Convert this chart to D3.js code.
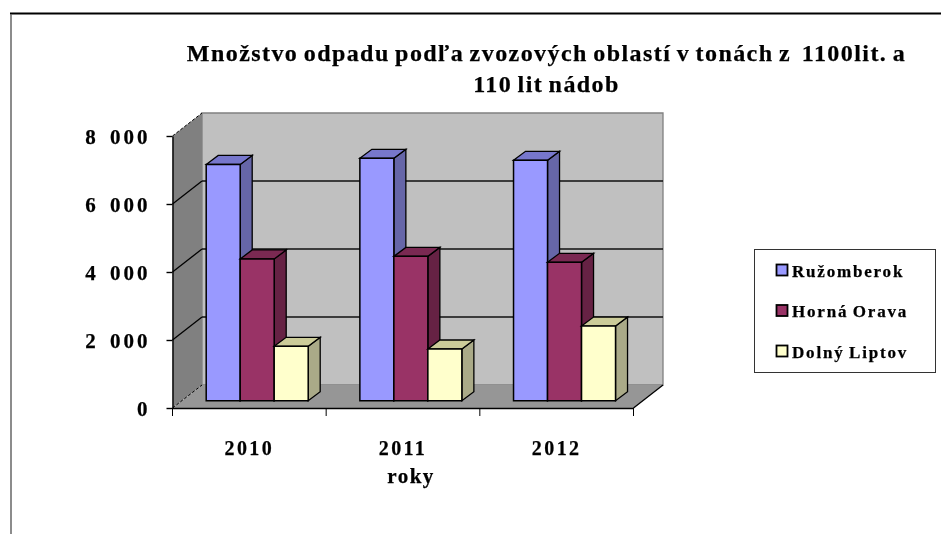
<!DOCTYPE html>
<html>
<head>
<meta charset="utf-8">
<script src="https://cdn.jsdelivr.net/npm/d3@7"></script>
<style>
body { margin: 0; background: #fff; }
svg { filter: blur(0.35px); }
text { font-family: "Liberation Serif", serif; font-weight: bold; fill: #000; stroke: #000; stroke-width: 0.25px; }
</style>
</head>
<body>
<script>
// data
var years = ["2010", "2011", "2012"];
var seriesNames = ["Ružomberok", "Horná Orava", "Dolný Liptov"];
var ruzomberok = [6950, 7130, 7070];
var hornaOrava = [4170, 4245, 4070];
var dolnyLiptov = [1600, 1520, 2195];
var yTicks = [0, 2000, 4000, 6000, 8000];
var yTickLabels = ["0", "2 000", "4 000", "6 000", "8 000"];
var titleLines = ["Množstvo odpadu podľa zvozových oblastí v tonách z  1100lit. a", "110 lit nádob"];

var seriesValues = [ruzomberok, hornaOrava, dolnyLiptov];
var faceColors = ["#9999ff", "#993366", "#ffffcc"];
var sideColors = ["#6666a8", "#662244", "#aaaa88"];
var topColors = ["#7777cc", "#7a2952", "#cccc99"];

var width = 941, height = 534;

// front plane of the 3d box and how far the back wall is shifted
var boxLeft = 172.5, boxRight = 633.5, boxTop = 136, boxBottom = 408;
var depthX = 29.5, depthY = -23;
// bars stand part way into the box
var barShiftX = 8.2, barShiftY = -7.3;
var barDepthX = 12, barDepthY = -9;

var x = d3.scaleBand().domain(years).range([boxLeft, boxRight]).paddingInner(0).paddingOuter(0);
var xInner = d3.scaleBand().domain(seriesNames).range([25.5, 127.5]);
var y = d3.scaleLinear().domain([0, 8000]).range([boxBottom, boxTop]);

var svg = d3.select("body").append("svg")
    .attr("width", width)
    .attr("height", height)
    .style("display", "block");

// page edge
svg.append("line").attr("x1", 10).attr("x2", width).attr("y1", 13.5).attr("y2", 13.5)
    .attr("stroke", "#000").attr("stroke-width", 2);
svg.append("line").attr("x1", 11).attr("x2", 11).attr("y1", 14).attr("y2", height)
    .attr("stroke", "#666").attr("stroke-width", 1.5);

// title
svg.selectAll(".title").data(titleLines).enter().append("text")
    .attr("class", "title")
    .attr("x", 546.5)
    .attr("y", (d, i) => 61 + i * 31)
    .attr("text-anchor", "middle")
    .style("font-size", "24px")
    .style("letter-spacing", "1.43px")
    .style("word-spacing", "-2px")
    .style("white-space", "pre")
    .text(d => d);

function poly(points, fill, stroke) {
    return svg.append("polygon")
        .attr("points", points.map(p => p.join(",")).join(" "))
        .attr("fill", fill)
        .attr("stroke", stroke || "none")
        .attr("stroke-width", 1.3);
}

// walls and floor
poly([[boxLeft + depthX, y(8000) + depthY], [boxRight + depthX, y(8000) + depthY], [boxRight + depthX, y(0) + depthY], [boxLeft + depthX, y(0) + depthY]], "#c0c0c0", "#808080");
poly([[boxLeft, y(8000)], [boxLeft + depthX, y(8000) + depthY], [boxLeft + depthX, y(0) + depthY], [boxLeft, y(0)]], "#808080");
poly([[boxLeft, y(0)], [boxLeft + depthX, y(0) + depthY], [boxRight + depthX, y(0) + depthY], [boxRight, y(0)]], "#969696");

// gridlines, back wall then side wall
yTicks.slice(1, 4).forEach(t => {
    svg.append("line").attr("x1", boxLeft + depthX).attr("x2", boxRight + depthX)
        .attr("y1", y(t) + depthY).attr("y2", y(t) + depthY)
        .attr("stroke", "#111").attr("stroke-width", 1.4);
    svg.append("line").attr("x1", boxLeft).attr("x2", boxLeft + depthX)
        .attr("y1", y(t)).attr("y2", y(t) + depthY)
        .attr("stroke", "#000").attr("stroke-width", 1.3);
});
[0, 8000].forEach(t => {
    svg.append("line").attr("x1", boxLeft).attr("x2", boxLeft + depthX)
        .attr("y1", y(t)).attr("y2", y(t) + depthY)
        .attr("stroke", "#000").attr("stroke-dasharray", "3,2");
});
svg.append("line").attr("x1", boxRight).attr("x2", boxRight + depthX)
    .attr("y1", y(0)).attr("y2", y(0) + depthY).attr("stroke", "#000").attr("stroke-width", 1.3);

// axes
var leftAxis = d3.axisLeft(y)
    .tickValues(yTicks)
    .tickFormat((d, i) => yTickLabels[i])
    .tickSize(6)
    .tickSizeOuter(0)
    .tickPadding(16);
var yAxis = svg.append("g").attr("transform", "translate(" + boxLeft + ",0)").call(leftAxis);
yAxis.selectAll("text")
    .style("font-size", "21px")
    .style("font-family", "Liberation Serif")
    .style("font-weight", "bold")
    .style("letter-spacing", "3px")
    .style("word-spacing", "3px")
    .attr("dy", "0.35em");
yAxis.selectAll("path, line").attr("stroke", "#000").attr("stroke-width", 1.4);

var bottomAxis = d3.axisBottom(x).tickSize(0).tickPadding(33);
var xAxis = svg.append("g").attr("transform", "translate(0," + boxBottom + ")").call(bottomAxis);
xAxis.selectAll("text")
    .style("font-size", "20px")
    .style("font-family", "Liberation Serif")
    .style("font-weight", "bold")
    .style("letter-spacing", "2.4px");
xAxis.selectAll("path, line").attr("stroke", "#000").attr("stroke-width", 1.4);
// ticks between the categories
xAxis.selectAll(".sep").data(d3.range(years.length + 1)).enter().append("line")
    .attr("x1", i => boxLeft + i * x.step()).attr("x2", i => boxLeft + i * x.step())
    .attr("y1", 0).attr("y2", 8)
    .attr("stroke", "#000");

// bars, back to front in series order
years.forEach((year, yi) => {
    seriesNames.forEach((name, si) => {
        var x0 = x(year) + xInner(name) + barShiftX;
        var x1 = x0 + xInner.bandwidth();
        var y0 = y(0) + barShiftY;
        var y1 = y(seriesValues[si][yi]) + barShiftY;
        poly([[x1, y1], [x1 + barDepthX, y1 + barDepthY], [x1 + barDepthX, y0 + barDepthY], [x1, y0]], sideColors[si], "#000");
        poly([[x0, y1], [x0 + barDepthX, y1 + barDepthY], [x1 + barDepthX, y1 + barDepthY], [x1, y1]], topColors[si], "#000");
        poly([[x0, y1], [x1, y1], [x1, y0], [x0, y0]], faceColors[si], "#000").attr("stroke-width", 1.5);
    });
});

// axis title
svg.append("text")
    .attr("x", 411)
    .attr("y", 483)
    .attr("text-anchor", "middle")
    .style("font-size", "21px")
    .style("letter-spacing", "1.5px")
    .text("roky");

// legend
svg.append("rect").attr("x", 754.5).attr("y", 249.5).attr("width", 181).attr("height", 123)
    .attr("fill", "#fff").attr("stroke", "#333");
var legendY = d3.scalePoint().domain(seriesNames).range([270, 351]);
var legend = svg.selectAll(".legend").data(seriesNames).enter().append("g")
    .attr("class", "legend")
    .attr("transform", d => "translate(0," + legendY(d) + ")");
legend.append("rect")
    .attr("x", 776.5).attr("y", -5.5).attr("width", 11).attr("height", 11)
    .attr("fill", (d, i) => faceColors[i])
    .attr("stroke", "#000").attr("stroke-width", 1.8);
legend.append("text")
    .attr("x", 792)
    .attr("y", 6.5)
    .style("font-size", "17px")
    .style("letter-spacing", "1.8px")
    .style("word-spacing", "-1.5px")
    .text(d => d);
</script>
</body>
</html>
